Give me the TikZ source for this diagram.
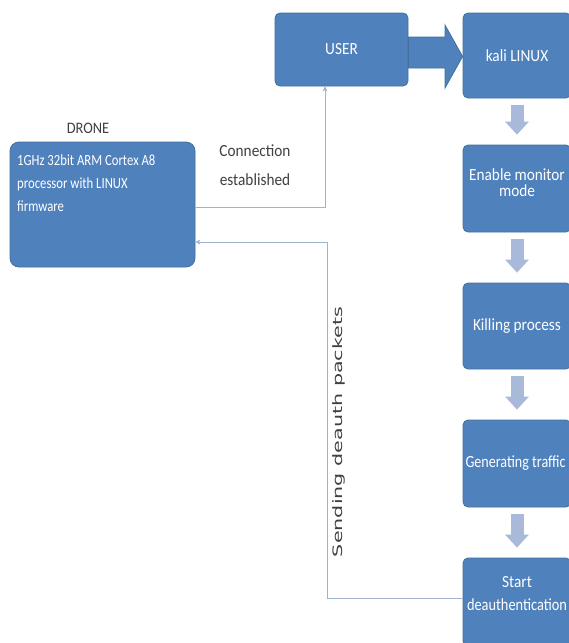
\documentclass[tikz,border=0pt]{standalone}
\usepackage{fontspec}
\setmainfont{Carlito}
\newfontfamily\boxfont[FakeStretch=0.9]{Carlito}
\newfontfamily\dronefont[FakeStretch=0.82]{Carlito}
\newfontfamily\vfont{DejaVu Sans}
\usetikzlibrary{arrows.meta}
\definecolor{boxfill}{HTML}{4F81BD}
\definecolor{boxborder}{HTML}{41719C}
\definecolor{smallarr}{HTML}{A9B9D9}
\definecolor{connline}{HTML}{9FB2CF}
\definecolor{lbl}{HTML}{404040}
\tikzset{
  box/.style={draw=boxborder, fill=boxfill, rounded corners=5pt, text=white,
    font=\boxfont\fontsize{17}{18}\selectfont, align=center, line width=0.8pt, inner sep=0pt},
  flowarr/.style={draw=smallarr, line width=13pt, -{Triangle[length=13pt,width=23pt]},
    shorten <=7pt, shorten >=10pt},
  conn/.style={draw=connline, line width=0.9pt},
  connarr/.style={conn, -{Stealth[length=5pt,width=5pt]}},
  lab/.style={text=lbl, font=\boxfont\fontsize{16}{18}\selectfont, align=center, inner sep=0pt}
}
\begin{document}
\begin{tikzpicture}[x=1pt,y=-1pt]
\useasboundingbox (0,0) rectangle (569,643);
\clip (0,0) rectangle (569,643);
\fill[white] (0,0) rectangle (569,643);
% boxes
\node[box, minimum width=133pt, minimum height=73pt] (user) at (341.5,49.5) {USER};
\node[box, minimum width=108pt, minimum height=85pt] (kali) at (517,55.5) {kali LINUX};
\node[box, minimum width=108pt, minimum height=87pt] (enable) at (517,188.5)
  {\raisebox{4pt}[\height][\depth]{\begin{tabular}{@{}c@{}}Enable monitor\\[-2pt]mode\end{tabular}}};
\node[box, minimum width=108pt, minimum height=86pt] (kill) at (517,326) {Killing process};
\node[box, minimum width=108pt, minimum height=87pt] (gen) at (517,463.5)
  {\hspace*{-3pt}\resizebox{100pt}{\height}{Generating traffic}};
\node[box, minimum width=108pt, minimum height=88pt] (start) at (517,602)
  {\raisebox{7pt}[\height][\depth]{\begin{tabular}{@{}c@{}}Start\\[5pt]\resizebox{100pt}{\height}{deauthentication}\end{tabular}}};
\node[box, rounded corners=9pt, minimum width=185pt, minimum height=125pt] (drone) at (102.5,204.5) {};
\node[anchor=north west, text=white, align=left, inner sep=0pt,
  font=\dronefont\fontsize{15.5}{23}\selectfont] (dronetxt) at (17,155)
  {1GHz 32bit ARM Cortex A8\\processor with LINUX\\firmware};
% labels
\node[lab] (dronelbl) at (88,128) {DRONE};
\node[lab, font=\boxfont\fontsize{17}{29}\selectfont] (connlbl) at (255,165) {Connection\\established};
% big arrow USER -> kali
\filldraw[fill=boxfill, draw=boxborder, line width=0.8pt]
  (user.east |- 0,37) -- (445,37) -- (445,25) -- (kali.west |- 0,56.5)
  -- (445,88) -- (445,68) -- (user.east |- 0,68) -- cycle;
% flow arrows
\draw[flowarr] (kali) -- (enable);
\draw[flowarr] (enable) -- (kill);
\draw[flowarr] (kill) -- (gen);
\draw[flowarr] (gen) -- (start);
% connectors
\coordinate (c1) at (325,207);
\draw[connarr] (drone.east |- c1) -| ([xshift=-16.5pt]user.south);
\coordinate (c2) at (327,242);
\draw[connarr] ([yshift=4pt]start.west) -| (c2) -- (drone.east |- c2);
\node[rotate=90, text=lbl, inner sep=0pt, font=\vfont\fontsize{13}{15}\selectfont] (sendlbl) at (339,432)
  {\resizebox{250pt}{\height}{Sending deauth packets}};
\end{tikzpicture}
\end{document}
